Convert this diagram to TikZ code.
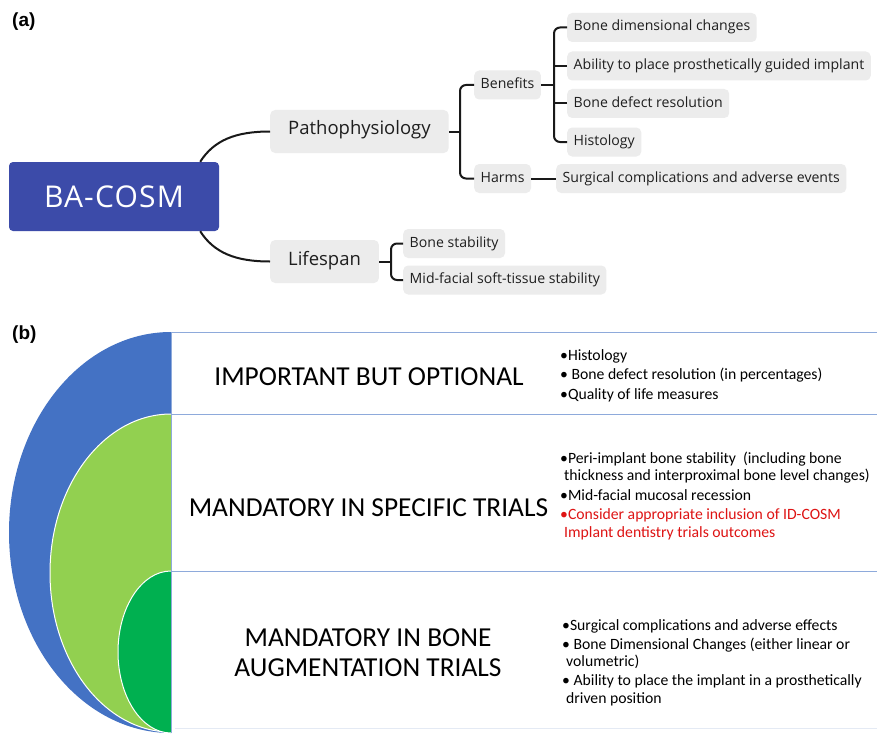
\documentclass[tikz,border=0pt]{standalone}
\usepackage{fontspec}
\setmainfont{Open Sans}
\newfontfamily\calib{Carlito}
\newfontfamily\labfont{Liberation Sans}
\definecolor{rootblue}{RGB}{60,75,169}
\definecolor{mmgray}{RGB}{236,236,236}
\definecolor{mmtext}{RGB}{30,30,30}
\definecolor{conncol}{RGB}{25,25,25}
\definecolor{shblue}{RGB}{68,114,196}
\definecolor{shlgreen}{RGB}{146,208,80}
\definecolor{shdgreen}{RGB}{0,176,80}
\definecolor{tline}{RGB}{142,170,219}
\definecolor{tlight}{RGB}{228,234,244}
\definecolor{redtxt}{RGB}{222,20,20}
\begin{document}
\begin{tikzpicture}[x=1pt,y=-1pt,
  panellab/.style={font=\labfont\bfseries\fontsize{19}{22}\selectfont, anchor=west, inner sep=0pt},
  mmbig/.style={fill=mmgray, rounded corners=5pt, anchor=west, inner xsep=18pt, inner ysep=0pt,
     minimum height=43pt, text=mmtext, font=\fontsize{18.5}{22}\selectfont, text height=0.85em, text depth=0.15em},
  mmsmall/.style={fill=mmgray, rounded corners=5pt, anchor=west, inner xsep=6.5pt, inner ysep=0pt,
     minimum height=29pt, text=mmtext, font=\fontsize{14.1}{16}\selectfont, text height=0.85em, text depth=0.15em},
  conn/.style={draw=conncol, line width=2pt},
  bracket/.style={draw=conncol, line width=2pt, rounded corners=6pt},
  bigcap/.style={font=\calib\fontsize{27.4}{30}\selectfont, inner sep=0pt, text=black},
  bul/.style={font=\calib\fontsize{15.7}{18}\selectfont, anchor=base west, inner sep=0pt, text=black},
  redbul/.style={bul, text=redtxt},
  tablerule/.style={draw=tline, line width=1pt}
]
\useasboundingbox (0,0) rectangle (877,733);
\fill[white] (0,0) rectangle (877,733);

% ---------------- (a) ----------------
\node[panellab] (laba) at (12,22) {(a)};

\node[fill=rootblue, rounded corners=4pt, minimum width=210pt, minimum height=69pt,
      text=white, font=\addfontfeature{LetterSpace=4}\fontsize{30}{32}\selectfont, inner sep=0pt] (root) at (114,196.5) {BA-COSM};

\node[mmbig] (patho) at (270,131.5) {Pathophysiology};
\node[mmbig] (life) at (270,261.5) {Lifespan};

\node[mmsmall] (benefits) at (474,85) {Benefits};
\node[mmsmall] (harms) at (474,178.5) {Harms};

\node[mmsmall] (c1) at (567,27.5) {Bone dimensional changes};
\node[mmsmall] (c2) at (567,66) {Ability to place prosthetically guided implant};
\node[mmsmall] (c3) at (567,103.5) {Bone defect resolution};
\node[mmsmall] (c4) at (567,142) {Histology};
\node[mmsmall] (h1) at (556,178.5) {Surgical complications and adverse events};

\node[mmsmall] (l1) at (403,243.5) {Bone stability};
\node[mmsmall] (l2) at (403,280) {Mid-facial soft-tissue stability};

\coordinate (pj) at (460,131.5);
\coordinate (bj) at (554,85);
\coordinate (lj) at (391,261.5);

% root connectors
\draw[conn] ([xshift=-19pt]root.north east) .. controls (214,140) and (236,131.5) .. (patho.west);
\draw[conn] ([xshift=-19pt]root.south east) .. controls (214,253) and (236,261.5) .. (life.west);

% pathophysiology branch
\draw[conn] (patho.east) -- (pj);
\draw[bracket] (benefits.west) -| (pj) |- (harms.west);
\draw[conn] (benefits.east) -- (bj);
\draw[bracket] (c1.west) -| (bj) |- (c4.west);
\draw[conn] (c2.west) -- (c2.west -| bj);
\draw[conn] (c3.west) -- (c3.west -| bj);
\draw[conn] (harms.east) -- (h1.west);

% lifespan branch
\draw[conn] (life.east) -- (lj);
\draw[bracket] (l1.west) -| (lj) |- (l2.west);

% ---------------- (b) ----------------
\node[panellab] (labb) at (12,335) {(b)};

\begin{scope}
  \clip (0,330) rectangle (171,733);
  \fill[shblue] (171,532.5) ellipse [x radius=162, y radius=200.5];
  \filldraw[fill=shlgreen, draw=white, line width=1pt] (171,573) ellipse [x radius=121, y radius=159];
  \filldraw[fill=shdgreen, draw=white, line width=1pt] (171,652) ellipse [x radius=53, y radius=81];
\end{scope}

\draw[tablerule] (171,332) -- (877,332);
\draw[tablerule] (171,414) -- (877,414);
\draw[tablerule] (171,571) -- (877,571);
\draw[tablerule] (171,332) -- (171,733);
\draw[draw=tlight, line width=1pt] (175,728) -- (877,728);

\node[bigcap] (t1) at (369,377) {IMPORTANT BUT OPTIONAL};
\node[bigcap] (t2) at (368.5,508) {MANDATORY IN SPECIFIC TRIALS};
\node[bigcap] (t3a) at (368,638) {MANDATORY IN BONE};
\node[bigcap] (t3b) at (368,668) {AUGMENTATION TRIALS};

\node[bul] (b11) at (560,360) {•Histology};
\node[bul] (b12) at (560,379) {• Bone defect resolution (in percentages)};
\node[bul] (b13) at (560,399) {•Quality of life measures};

\node[bul] (b21) at (560,463) {•Peri-implant bone stability\ \ (including bone};
\node[bul] (b21b) at (564,480) {thickness and interproximal bone level changes)};
\node[bul] (b22) at (560,500) {•Mid-facial mucosal recession};
\node[redbul] (b23) at (560,519) {•Consider appropriate inclusion of ID-COSM};
\node[redbul] (b23b) at (564,537) {Implant dentistry trials outcomes};

\node[bul] (b31) at (562,630) {•Surgical complications and adverse effects};
\node[bul] (b32) at (562,649) {• Bone Dimensional Changes (either linear or};
\node[bul] (b32b) at (566,666) {volumetric)};
\node[bul] (b33) at (562,685) {• Ability to place the implant in a prosthetically};
\node[bul] (b33b) at (566,703) {driven position};
\end{tikzpicture}
\end{document}
